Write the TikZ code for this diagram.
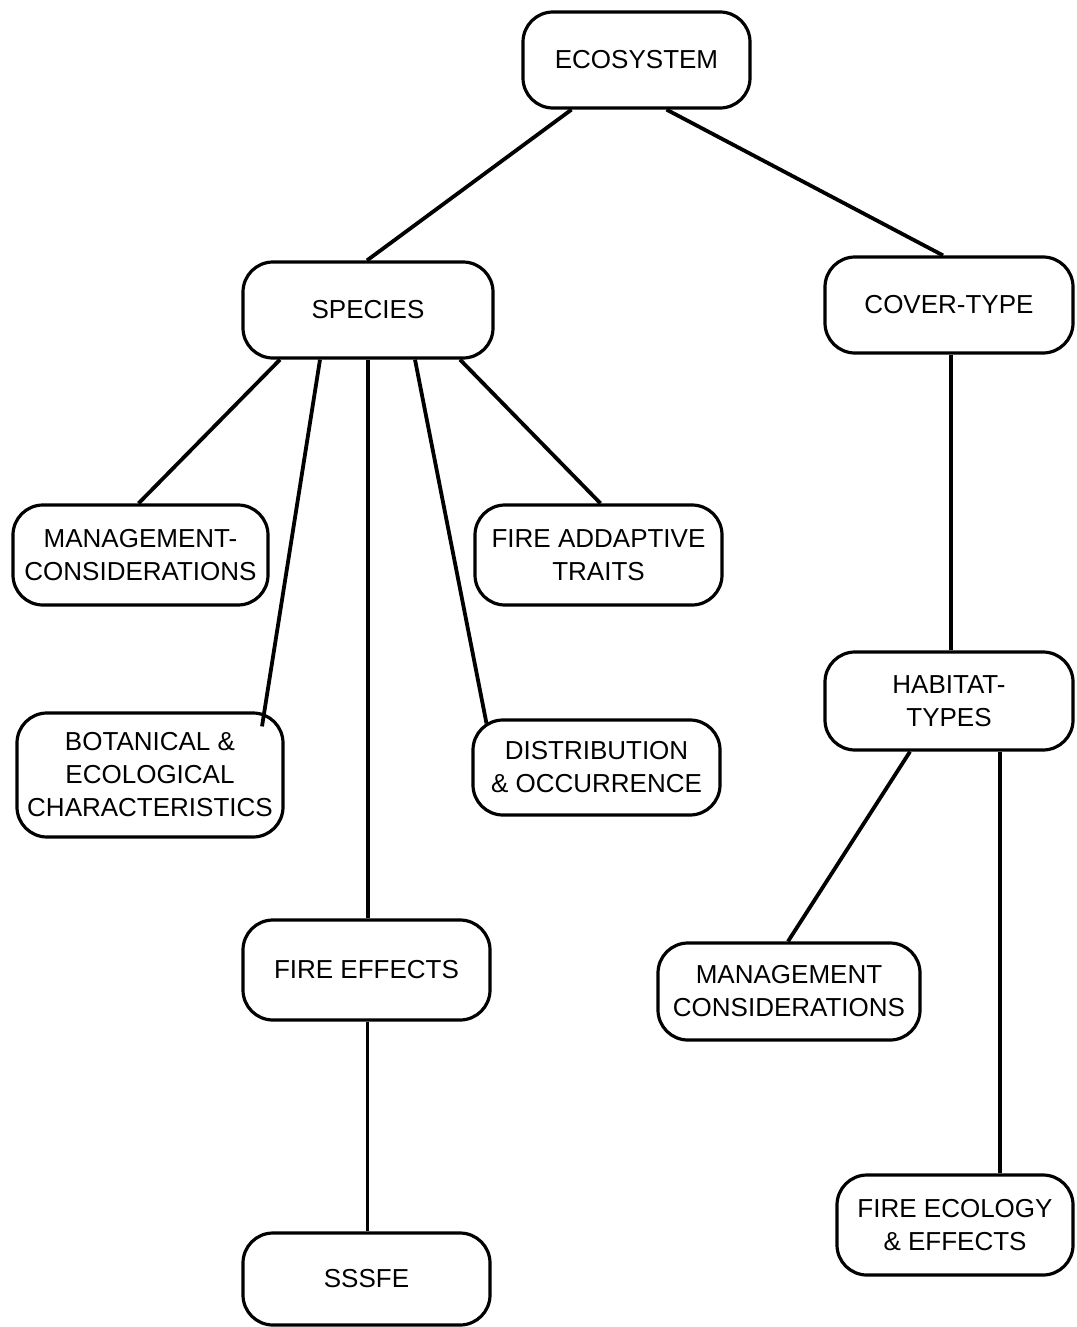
\documentclass[tikz,border=0pt]{standalone}
\usepackage{fontspec}
\setmainfont{Liberation Sans}
\usetikzlibrary{calc}
\begin{document}
\begin{tikzpicture}[x=0.5pt,y=-0.5pt,
  box/.style={draw, line width=1.6pt, rounded corners=15pt, align=center,
    inner sep=0pt, fill=white, font=\fontsize{13}{16.5}\selectfont},
  bw/.style={minimum width=#1*0.5pt},
  bh/.style={minimum height=#1*0.5pt},
  link/.style={line width=1.9pt}]
\useasboundingbox (0,0) rectangle (1076,1327);
\fill[white] (0,0) rectangle (1076,1327);

% boxes
\node[box,bw=227,bh=96]  (eco)  at (636.5,60)   {ECOSYSTEM};
\node[box,bw=250,bh=96]  (spec) at (368,310)    {SPECIES};
\node[box,bw=248,bh=96]  (cov)  at (949,305)    {COVER-TYPE};
\node[box,bw=255,bh=100] (mgl)  at (140.5,555)  {MANAGEMENT-\\CONSIDERATIONS};
\node[box,bw=247,bh=100] (fat)  at (598.5,555)  {FIRE ADDAPTIVE\\TRAITS};
\node[box,bw=266,bh=124] (bot)  at (150,775)    {BOTANICAL \&\\ECOLOGICAL\\CHARACTERISTICS};
\node[box,bw=247,bh=95]  (dist) at (596.5,767.5){DISTRIBUTION\\\& OCCURRENCE};
\node[box,bw=248,bh=98]  (hab)  at (949,701)    {HABITAT-\\TYPES};
\node[box,bw=247,bh=100] (fe)   at (366.5,970)  {FIRE EFFECTS};
\node[box,bw=262,bh=97]  (mgr)  at (789,991.5)  {MANAGEMENT\\CONSIDERATIONS};
\node[box,bw=247,bh=92]  (sss)  at (366.5,1279) {SSSFE};
\node[box,bw=236,bh=100] (fee)  at (955,1225)   {FIRE ECOLOGY\\\& EFFECTS};

% connectors
\draw[link] ($(eco.south)+(-65,0)$) -- ($(spec.north)+(-1,0)$);
\draw[link] ($(eco.south)+(30,0)$)  -- ($(cov.north)+(-6,0)$);
\draw[link] ($(spec.south)+(-88,0)$) -- ($(mgl.north)+(-2,0)$);
\draw[link] ($(spec.south)+(-48,0)$) -- ($(bot.north)+(112,15)$);
\draw[link] ($(spec.south)+(0,0)$)   -- ($(fe.north)+(1.5,0)$);
\draw[link] ($(spec.south)+(47,0)$)  -- ($(dist.north)+(-110,5)$);
\draw[link] ($(spec.south)+(92,0)$)  -- ($(fat.north)+(2,0)$);
\draw[link] ($(cov.south)+(2,0)$)    -- ($(hab.north)+(2,0)$);
\draw[link] ($(hab.south)+(-39,0)$)  -- ($(mgr.north)+(-1,0)$);
\draw[link] ($(hab.south)+(51,0)$)   -- ($(fee.north)+(45,0)$);
\draw[link] ($(fe.south)+(1,0)$)     -- ($(sss.north)+(1,0)$);
\end{tikzpicture}
\end{document}
